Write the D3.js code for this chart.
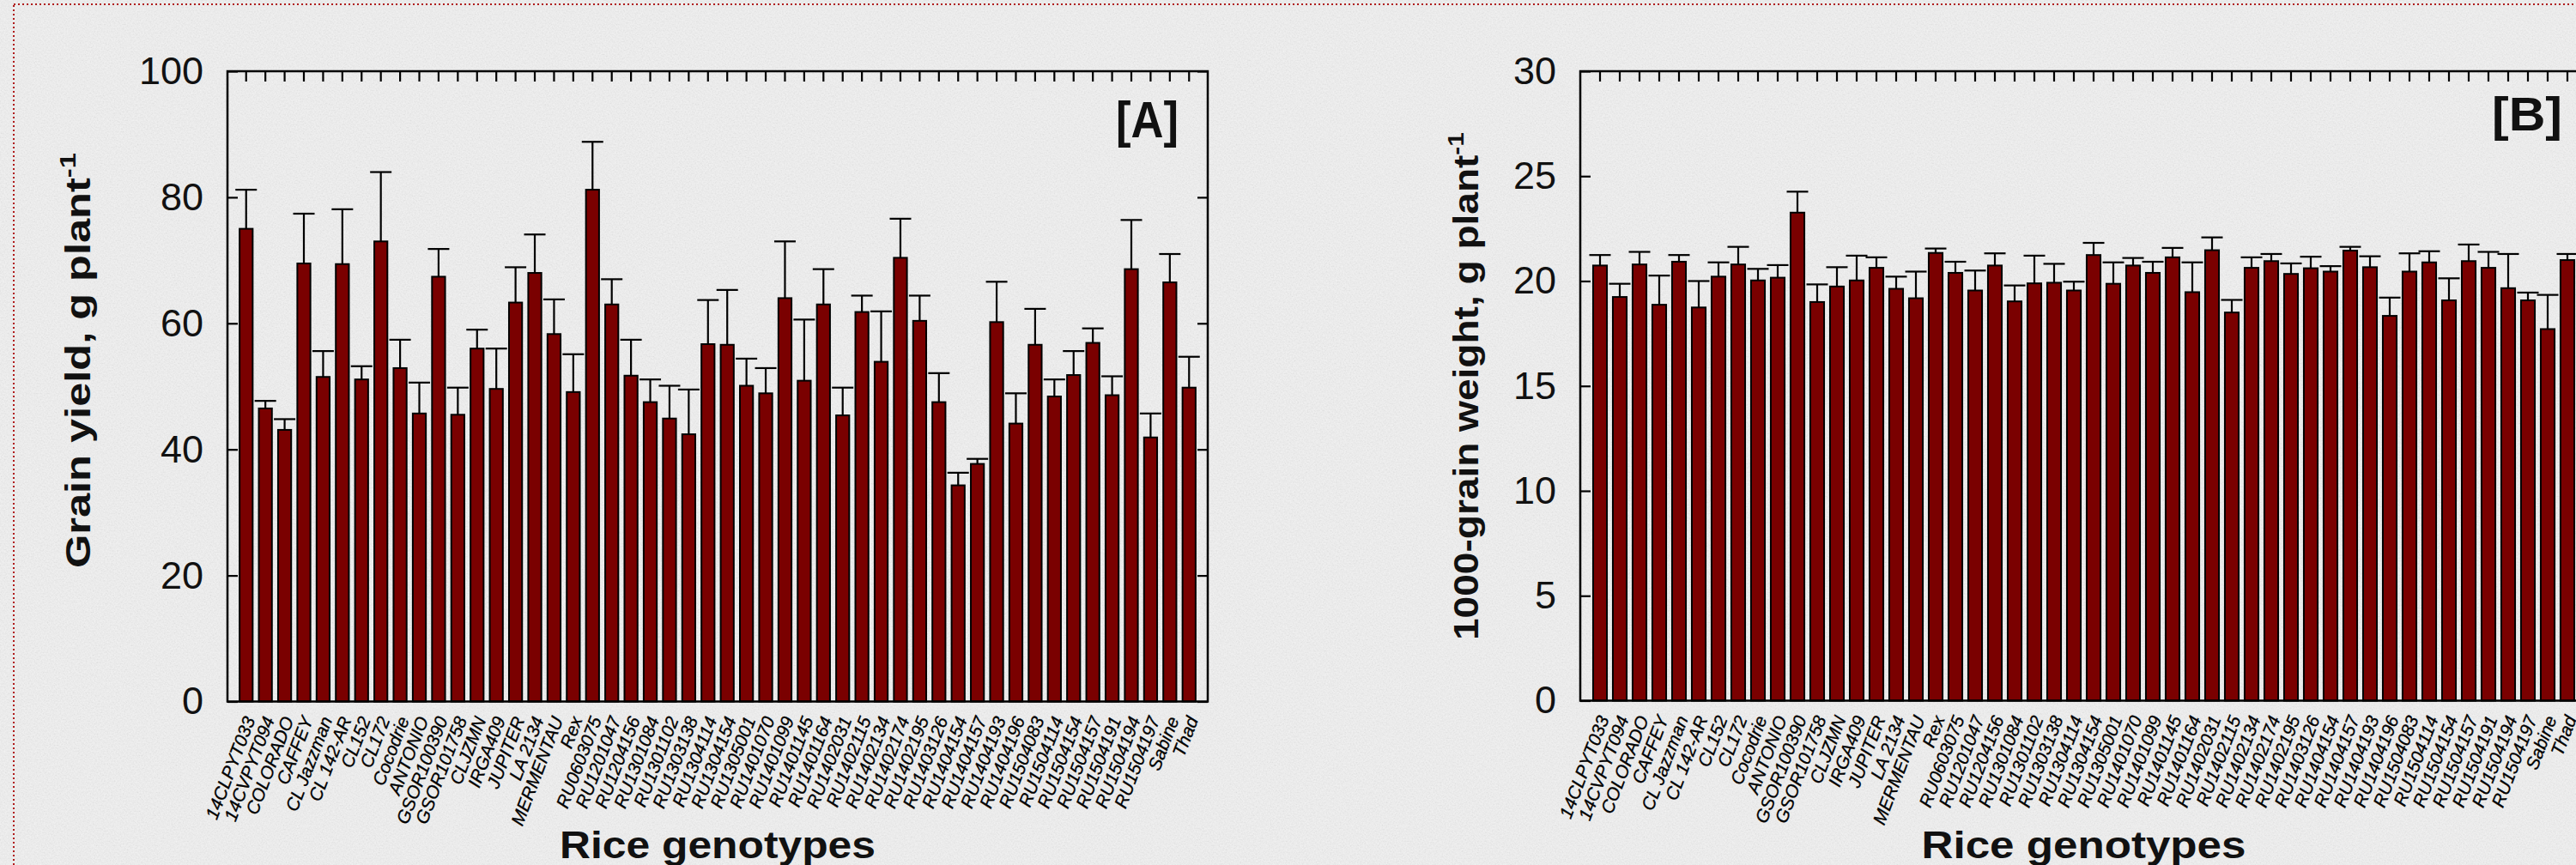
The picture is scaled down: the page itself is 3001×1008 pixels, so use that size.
<!DOCTYPE html>
<html>
<head>
<meta charset="utf-8">
<script src="https://cdn.jsdelivr.net/npm/d3@7"></script>
<style>
  body { margin: 0; background: #ebebeb; }
  svg { display: block; }
</style>
</head>
<body>
<div id="chart"></div>
<script>
// Rice genotypes (same order in both panels)
const genotypes = [
  "14CLPYT033", "14CVPYT094", "COLORADO", "CAFFEY", "CL Jazzman", "CL 142-AR", "CL152", "CL172",
  "Cocodrie", "ANTONIO", "GSOR100390", "GSOR101758", "CLJZMN", "IRGA409", "JUPITER", "LA 2134",
  "MERMENTAU", "Rex", "RU0603075", "RU1201047", "RU1204156", "RU1301084", "RU1301102", "RU1303138",
  "RU1304114", "RU1304154", "RU1305001", "RU1401070", "RU1401099", "RU1401145", "RU1401164", "RU1402031",
  "RU1402115", "RU1402134", "RU1402174", "RU1402195", "RU1403126", "RU1404154", "RU1404157", "RU1404193",
  "RU1404196", "RU1504083", "RU1504114", "RU1504154", "RU1504157", "RU1504191", "RU1504194", "RU1504197",
  "Sabine", "Thad"
];

// [A] grain yield, g plant-1 (mean and upper error)
const grainYield = [
  75.0, 46.5, 43.1, 69.5, 51.5, 69.4, 51.1, 73.0, 52.9, 45.7,
  67.4, 45.5, 56.0, 49.6, 63.3, 68.0, 58.3, 49.1, 81.2, 63.0,
  51.7, 47.5, 44.9, 42.4, 56.7, 56.6, 50.1, 48.9, 64.0, 50.9,
  63.0, 45.4, 61.8, 53.9, 70.4, 60.4, 47.5, 34.3, 37.7, 60.2,
  44.1, 56.6, 48.4, 51.8, 56.9, 48.6, 68.6, 41.9, 66.5, 49.8
];
const grainYieldErr = [
  6.2, 1.2, 1.7, 7.9, 4.1, 8.7, 2.1, 11.0, 4.5, 4.9,
  4.4, 4.3, 3.0, 6.4, 5.6, 6.1, 5.5, 6.0, 7.6, 4.0,
  5.7, 3.6, 5.2, 7.1, 7.0, 8.7, 4.3, 4.0, 9.0, 9.7,
  5.6, 4.4, 2.6, 8.0, 6.2, 4.0, 4.6, 2.0, 0.8, 6.4,
  4.8, 5.7, 2.7, 3.8, 2.3, 3.0, 7.8, 3.8, 4.5, 4.9
];

// [B] 1000-grain weight, g (mean and upper error)
const grainWeight = [
  20.74, 19.24, 20.79, 18.87, 20.92, 18.74, 20.21, 20.79, 20.03, 20.16,
  23.26, 19.00, 19.74, 20.03, 20.63, 19.63, 19.18, 21.34, 20.39, 19.55,
  20.74, 19.03, 19.89, 19.92, 19.55, 21.24, 19.87, 20.74, 20.39, 21.13,
  19.47, 21.47, 18.50, 20.63, 20.95, 20.34, 20.61, 20.45, 21.45, 20.66,
  18.34, 20.45, 20.89, 19.08, 20.95, 20.63, 19.66, 19.08, 17.71, 21.00
];
const grainWeightErr = [
  0.50, 0.63, 0.60, 1.39, 0.32, 1.26, 0.68, 0.84, 0.55, 0.60,
  1.00, 0.84, 0.92, 1.18, 0.50, 0.58, 1.27, 0.21, 0.53, 0.95,
  0.58, 0.76, 1.32, 0.90, 0.42, 0.58, 1.02, 0.36, 0.53, 0.45,
  1.42, 0.61, 0.60, 0.50, 0.34, 0.50, 0.55, 0.26, 0.18, 0.52,
  0.87, 0.87, 0.53, 1.05, 0.79, 0.76, 1.63, 0.37, 1.63, 0.29
];

const yieldTicks = [0, 20, 40, 60, 80, 100];
const weightTicks = [0, 5, 10, 15, 20, 25, 30];

const W = 3001, H = 1008;
const font = "'Liberation Sans', Arial, sans-serif";

const svg = d3.select("#chart")
  .append("svg")
  .attr("width", W)
  .attr("height", H);

// paper-like grey texture behind everything
const filter = svg.append("defs").append("filter")
  .attr("id", "paper")
  .attr("x", 0).attr("y", 0).attr("width", "100%").attr("height", "100%");
filter.append("feTurbulence")
  .attr("type", "fractalNoise")
  .attr("baseFrequency", 0.6)
  .attr("numOctaves", 3)
  .attr("seed", 7);
filter.append("feColorMatrix")
  .attr("type", "matrix")
  .attr("values", "1 0 0 0 0  1 0 0 0 0  1 0 0 0 0  0 0 0 0 1");

svg.append("rect").attr("width", W).attr("height", H).attr("fill", "#f2f2f2");
svg.append("rect").attr("width", W).attr("height", H)
  .attr("filter", "url(#paper)").attr("opacity", 0.12);

// dotted frame
svg.append("rect")
  .attr("x", 16).attr("y", 5)
  .attr("width", W + 20).attr("height", H + 20)
  .attr("fill", "none")
  .attr("stroke", "#b01c1c")
  .attr("stroke-width", 2)
  .attr("stroke-dasharray", "2,3");

function drawPanel(p) {
  const width = p.right - p.left,
        height = p.bottom - p.top;

  const g = svg.append("g")
    .attr("transform", `translate(${p.left},${p.top})`);

  const x = d3.scaleBand()
    .domain(genotypes)
    .range([0, width])
    .paddingInner(p.padIn)
    .paddingOuter(p.padOut);
  const y = d3.scaleLinear()
    .domain([p.ticks[0], p.ticks[p.ticks.length - 1]])
    .range([height, 0]);

  const cx = d => x(d) + x.bandwidth() / 2;

  // error bars (upper only)
  genotypes.forEach((d, i) => {
    const top = y(p.values[i] + p.errors[i]);
    g.append("line")
      .attr("x1", cx(d)).attr("x2", cx(d))
      .attr("y1", y(p.values[i])).attr("y2", top)
      .attr("stroke", "#000").attr("stroke-width", 2.2);
    g.append("line")
      .attr("x1", cx(d) - 12.5).attr("x2", cx(d) + 12.5)
      .attr("y1", top).attr("y2", top)
      .attr("stroke", "#000").attr("stroke-width", 2.2);
  });

  // bars
  g.selectAll(".bar")
    .data(genotypes)
    .join("rect")
    .attr("class", "bar")
    .attr("x", d => x(d))
    .attr("y", (d, i) => y(p.values[i]))
    .attr("width", x.bandwidth())
    .attr("height", (d, i) => height - y(p.values[i]))
    .attr("fill", "#7a0000")
    .attr("stroke", "#000")
    .attr("stroke-width", 2);

  // axes: inward ticks left/right, category ticks on top
  const left = g.append("g")
    .call(d3.axisLeft(y).tickValues(p.ticks).tickSize(-12).tickPadding(28));
  const right = g.append("g")
    .attr("transform", `translate(${width},0)`)
    .call(d3.axisRight(y).tickValues(p.ticks).tickSize(-12).tickFormat(""));
  const topAxis = g.append("g")
    .call(d3.axisTop(x).tickSize(-12).tickFormat(""));
  [left, right, topAxis].forEach(a => {
    a.select(".domain").remove();
    a.selectAll("line").attr("stroke", "#000").attr("stroke-width", 2.2);
  });
  left.selectAll("text")
    .attr("font-family", font)
    .attr("font-size", 45)
    .attr("fill", "#111");

  g.append("rect")
    .attr("width", width).attr("height", height)
    .attr("fill", "none")
    .attr("stroke", "#000")
    .attr("stroke-width", 2.5);

  // genotype labels, italic and slanted
  g.selectAll(".lab")
    .data(genotypes)
    .join("text")
    .attr("class", "lab")
    .attr("transform", d => `translate(${cx(d) + 11},${height + 21}) rotate(-69)`)
    .attr("text-anchor", "end")
    .attr("font-family", font)
    .attr("font-style", "italic")
    .attr("font-size", 21)
    .attr("stroke", "#000")
    .attr("stroke-width", 0.3)
    .attr("fill", "#000")
    .text(d => d);

  // panel letter
  svg.append("text")
    .attr("x", p.letterX).attr("y", p.letterY)
    .attr("text-anchor", "end")
    .attr("font-family", font)
    .attr("font-weight", "bold")
    .attr("font-size", p.letterSize)
    .attr("textLength", p.letterLen)
    .attr("lengthAdjust", "spacingAndGlyphs")
    .attr("fill", "#111")
    .text(p.letter);

  // x title
  svg.append("text")
    .attr("x", (p.left + p.right) / 2).attr("y", 1000)
    .attr("text-anchor", "middle")
    .attr("font-family", font)
    .attr("font-weight", "bold")
    .attr("font-size", 44)
    .attr("textLength", p.xTitleLen)
    .attr("lengthAdjust", "spacingAndGlyphs")
    .attr("fill", "#111")
    .text("Rice genotypes");

  // y title with superscript
  const yt = svg.append("text")
    .attr("transform", `translate(${p.yTitleX},${p.yTitleStart}) rotate(-90)`)
    .attr("font-family", font)
    .attr("font-weight", "bold")
    .attr("font-size", 40)
    .attr("textLength", p.yTitleLen)
    .attr("lengthAdjust", "spacingAndGlyphs")
    .attr("fill", "#111");
  yt.append("tspan").text(p.yTitle);
  yt.append("tspan")
    .attr("font-size", 26)
    .attr("dy", -17)
    .text("-1");
}

drawPanel({
  left: 265, right: 1407, top: 83, bottom: 817.5,
  padIn: 0.32, padOut: 0.63,
  values: grainYield, errors: grainYieldErr, ticks: yieldTicks,
  letter: "[A]", letterX: 1373, letterY: 160, letterSize: 60, letterLen: 73,
  xTitleLen: 368,
  yTitle: "Grain yield, g plant", yTitleX: 105, yTitleStart: 662, yTitleLen: 484
});

drawPanel({
  left: 1841, right: 3014, top: 83, bottom: 816.5,
  padIn: 0.3, padOut: 0.65,
  values: grainWeight, errors: grainWeightErr, ticks: weightTicks,
  letter: "[B]", letterX: 2985, letterY: 152, letterSize: 56, letterLen: 82,
  xTitleLen: 378,
  yTitle: "1000-grain weight, g plant", yTitleX: 1722, yTitleStart: 746, yTitleLen: 592
});
</script>
</body>
</html>
